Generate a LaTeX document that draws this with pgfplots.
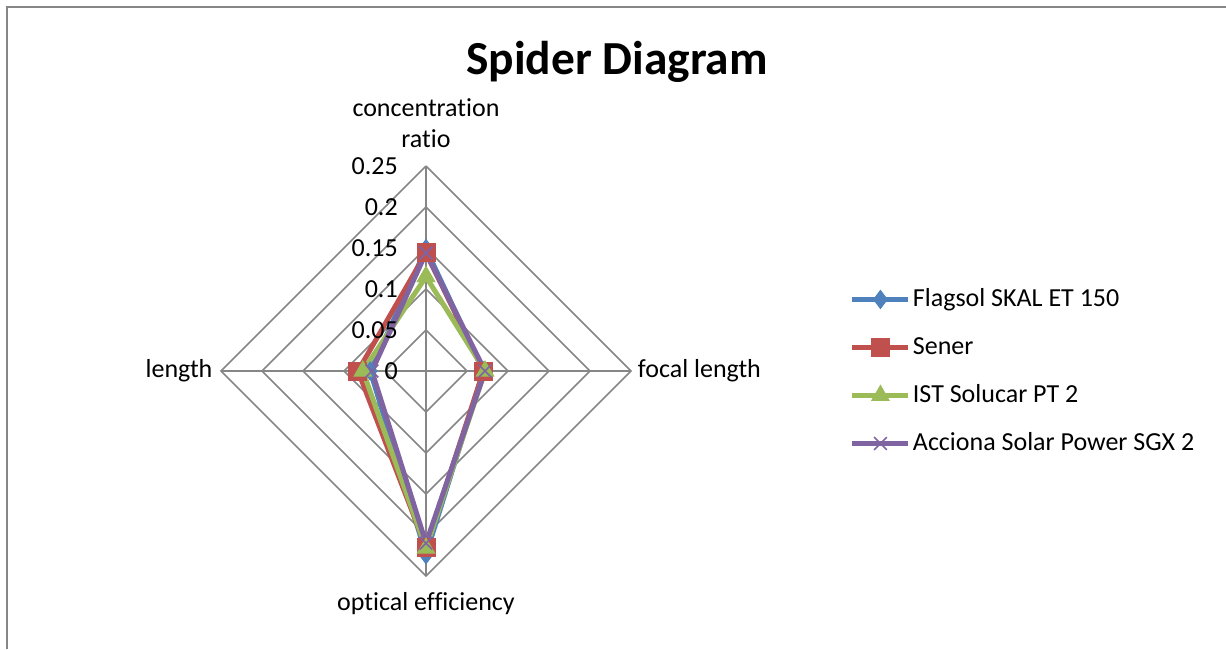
\documentclass[border=0pt]{standalone}
\usepackage{pgfplots}
\pgfplotsset{compat=1.18}
\usepackage{fontspec}
\setmainfont{Carlito}[RawFeature={-liga;-clig;-dlig}]
\definecolor{sBlue}{HTML}{4F81BD}
\definecolor{sRed}{HTML}{C0504D}
\definecolor{sGreen}{HTML}{9BBB59}
\definecolor{sPurple}{HTML}{8064A2}
\definecolor{gridgray}{HTML}{868686}
\begin{document}
\fontsize{13}{15.6}\selectfont
\begin{tikzpicture}
% page = 1226x649 px at 0.5pt per px
\path[use as bounding box] (0,0) rectangle (613pt,-324.5pt);
\draw[gridgray, line width=1pt] (3.5pt,-324.5pt) -- (3.5pt,-3.5pt) -- (613pt,-3.5pt);
\node[font=\bfseries\fontsize{23.7}{28}\selectfont] at (308.5pt,-31pt) {Spider Diagram};

\begin{axis}[
    x=410pt, y=410pt,
    anchor=origin, at={(213pt,-185.5pt)},
    xmin=-0.25, xmax=0.25, ymin=-0.25, ymax=0.25,
    hide axis,
    clip=false,
    every axis plot/.append style={data cs=polar},
    legend style={
        at={(1.533,0.712)},
        anchor=north west,
        draw=none,
        fill=none,
        inner sep=0pt,
        row sep=9pt,
        font=\fontsize{13}{15.6}\selectfont,
        nodes={inner sep=1pt, text height=10pt, text depth=3pt},
    },
    legend cell align={left},
    legend image code/.code={
        \draw[mark repeat=2,mark phase=2,#1]
            plot coordinates {(0pt,0pt) (14pt,0pt) (28pt,0pt)};
    },
]
% web: rings and spokes
\pgfplotsinvokeforeach{0.05,0.1,0.15,0.2,0.25}{
    \addplot[gridgray, line width=0.75pt, forget plot]
        coordinates {(90,#1) (0,#1) (270,#1) (180,#1) (90,#1)};
}
\pgfplotsinvokeforeach{90,0,270,180}{
    \addplot[gridgray, line width=0.75pt, forget plot]
        coordinates {(#1,0) (#1,0.25)};
}

% series: (angle, value) concentration ratio, focal length, optical efficiency, length
\addplot[sBlue, line width=2.5pt, mark=diamond*, mark size=4.5pt,
    mark options={solid, fill=sBlue, line width=0.5pt}]
    coordinates {(90,0.149) (0,0.070) (270,0.224) (180,0.068) (90,0.149)};
\addplot[sRed, line width=2.5pt, mark=square*, mark size=4.5pt,
    mark options={solid, fill=sRed, line width=0.5pt}]
    coordinates {(90,0.144) (0,0.070) (270,0.215) (180,0.083) (90,0.144)};
\addplot[sGreen, line width=2.5pt, mark=triangle*, mark size=5pt,
    mark options={solid, fill=sGreen, line width=0.5pt}]
    coordinates {(90,0.115) (0,0.072) (270,0.216) (180,0.077) (90,0.115)};
\addplot[sPurple, line width=2.5pt, mark=x, mark size=4.5pt,
    mark options={solid, line width=0.8pt}]
    coordinates {(90,0.144) (0,0.072) (270,0.210) (180,0.066) (90,0.144)};

\legend{Flagsol SKAL ET 150, Sener, IST Solucar PT 2, Acciona Solar Power SGX 2}

% scale labels
\node[anchor=east, inner sep=0pt] at (axis cs:-0.034,0) {0};
\node[anchor=east, inner sep=0pt] at (axis cs:-0.034,0.05) {0.05};
\node[anchor=east, inner sep=0pt] at (axis cs:-0.034,0.1) {0.1};
\node[anchor=east, inner sep=0pt] at (axis cs:-0.034,0.15) {0.15};
\node[anchor=east, inner sep=0pt] at (axis cs:-0.034,0.2) {0.2};
\node[anchor=east, inner sep=0pt] at (axis cs:-0.034,0.25) {0.25};
% category labels
\node[align=center, anchor=south, inner sep=0pt] at (axis cs:0,0.272)
    {concentration\\[0pt]ratio};
\node[anchor=west, inner sep=0pt] at (axis cs:0.258,0) {focal length};
\node[anchor=north, inner sep=0pt] at (axis cs:0,-0.27) {optical efficiency};
\node[anchor=east, inner sep=0pt] at (axis cs:-0.26,0) {length};
\end{axis}
\end{tikzpicture}
\end{document}
